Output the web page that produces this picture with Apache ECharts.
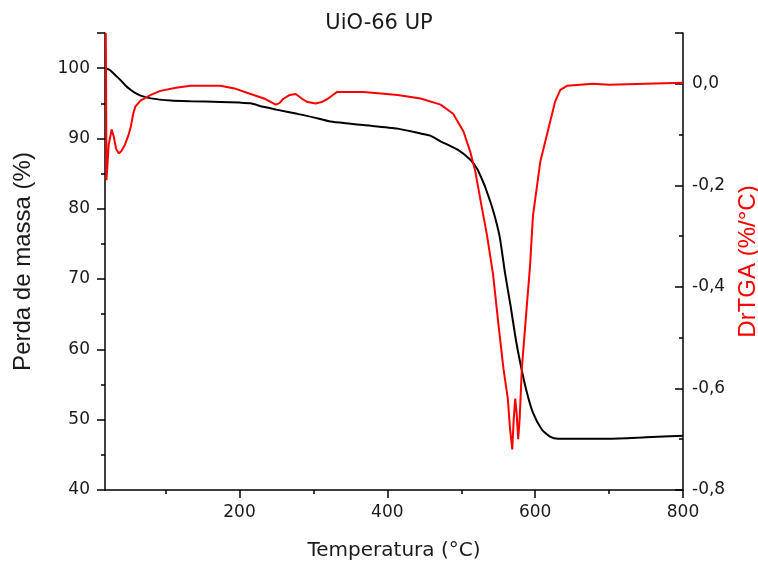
<!DOCTYPE html>
<html>
<head>
<meta charset="utf-8">
<script src="https://cdn.jsdelivr.net/npm/echarts@6/dist/echarts.min.js"></script>
<style>
  html, body { margin: 0; padding: 0; background: #fff; }
  #chart { width: 758px; height: 563px; }
</style>
</head>
<body>
<div id="chart"></div>
<script>
// TGA curve (mass %, left axis)
const tgaTemp = [19, 25, 32, 39, 46, 53, 60, 66, 80, 107, 134, 174, 200, 215, 232, 250, 278, 300, 323, 350, 368, 414, 445, 458, 472, 495, 512, 522, 528, 532, 543, 552, 559, 567, 574, 580, 588, 597, 609, 620, 631, 660, 700, 750, 800];
const tgaMass = [100.0, 99.7, 99.0, 98.3, 97.5, 96.9, 96.4, 96.1, 95.7, 95.4, 95.3, 95.2, 95.1, 95.0, 94.5, 94.1, 93.5, 93.0, 92.4, 92.1, 91.9, 91.4, 90.7, 90.4, 89.6, 88.4, 87.0, 85.6, 84.2, 83.2, 79.8, 76.0, 71.0, 66.0, 61.3, 58.0, 54.2, 51.0, 48.6, 47.6, 47.3, 47.3, 47.3, 47.5, 47.7];

// derivative curve (%/°C, right axis)
const dtgTemp = [19, 19.5, 20, 23, 27, 30, 33, 36.5, 40, 45, 50, 53, 56, 59, 66, 80, 93, 114, 134, 174, 195, 215, 235, 249, 254, 259, 268, 276, 285, 292, 303, 311, 319, 332, 368, 414, 445, 472, 489, 503, 512, 519, 528, 535, 543, 550, 557, 563, 566, 569, 571, 573, 575, 577, 579, 582, 588, 593, 597, 607, 618, 627, 634, 643, 678, 700, 750, 800];
const dtgValue = [0.1, 0.0, -0.19, -0.12, -0.09, -0.105, -0.128, -0.137, -0.133, -0.12, -0.1, -0.084, -0.06, -0.045, -0.033, -0.022, -0.014, -0.008, -0.004, -0.004, -0.01, -0.02, -0.03, -0.041, -0.038, -0.03, -0.022, -0.02, -0.03, -0.036, -0.039, -0.036, -0.03, -0.016, -0.016, -0.022, -0.029, -0.041, -0.059, -0.094, -0.133, -0.173, -0.245, -0.30, -0.375, -0.47, -0.56, -0.62, -0.68, -0.72, -0.66, -0.62, -0.65, -0.70, -0.66, -0.56, -0.45, -0.36, -0.26, -0.153, -0.088, -0.035, -0.012, -0.004, 0.0, -0.002, 0.0, 0.002];

const xMajorTicks = [200, 400, 600, 800];
const xMinorTicks = [100, 300, 500, 700];

const chart = echarts.init(document.getElementById('chart'));

const axisText = { color: '#1a1a1a', fontSize: 17, fontFamily: 'DejaVu Sans' };
const blackLine = { color: '#000', width: 1.5 };

chart.setOption({
    animation: false,
    title: {
        text: 'UiO-66 UP',
        left: 'center',
        top: 8,
        textStyle: { color: '#1a1a1a', fontSize: 21, fontWeight: 'normal', fontFamily: 'DejaVu Sans' }
    },
    grid: { left: 105, right: 75, top: 33, bottom: 73, outerBoundsMode: 'none' },
    xAxis: [
        {
            type: 'value',
            min: 18,
            max: 800,
            name: 'Temperatura (°C)',
            nameLocation: 'middle',
            nameGap: 51,
            nameTextStyle: { color: '#1a1a1a', fontSize: 20, fontFamily: 'DejaVu Sans' },
            axisLine: { show: true, onZero: false, lineStyle: blackLine },
            axisTick: { show: true, length: 8, customValues: xMajorTicks, lineStyle: blackLine },
            axisLabel: Object.assign({ margin: 14, customValues: xMajorTicks }, axisText),
            splitLine: { show: false }
        },
        {
            type: 'value',
            min: 18,
            max: 800,
            position: 'bottom',
            axisLine: { show: false, onZero: false },
            axisTick: { show: true, length: 4, customValues: xMinorTicks, lineStyle: blackLine },
            axisLabel: { show: false },
            splitLine: { show: false }
        }
    ],
    yAxis: [
        {
            type: 'value',
            min: 40,
            max: 105,
            interval: 10,
            name: 'Perda de massa (%)',
            nameLocation: 'middle',
            nameGap: 70,
            nameTextStyle: { color: '#1a1a1a', fontSize: 24, fontFamily: 'Liberation Sans' },
            axisLine: { show: true, lineStyle: blackLine },
            axisTick: { show: true, length: 8, lineStyle: blackLine },
            minorTick: { show: true, splitNumber: 2, length: 4, lineStyle: blackLine },
            axisLabel: Object.assign({ margin: 15, showMaxLabel: false }, axisText),
            splitLine: { show: false }
        },
        {
            type: 'value',
            min: -0.8,
            max: 0.1,
            interval: 0.2,
            position: 'right',
            name: 'DrTGA (%/°C)',
            nameLocation: 'middle',
            nameGap: 49,
            nameTextStyle: { color: '#ff0000', fontSize: 24, fontFamily: 'Liberation Sans' },
            axisLine: { show: true, lineStyle: blackLine },
            axisTick: { show: true, inside: true, length: 8, lineStyle: blackLine },
            minorTick: { show: true, splitNumber: 2, length: 4, lineStyle: blackLine },
            axisLabel: Object.assign({
                margin: 9,
                showMaxLabel: false,
                formatter: v => v.toFixed(1).replace('.', ',')
            }, axisText),
            splitLine: { show: false }
        }
    ],
    series: [
        {
            name: 'TGA',
            type: 'line',
            xAxisIndex: 0,
            yAxisIndex: 0,
            showSymbol: false,
            smooth: 0.2,
            lineStyle: { color: '#000', width: 2 },
            data: tgaTemp.map((t, i) => [t, tgaMass[i]])
        },
        {
            name: 'DrTGA',
            type: 'line',
            xAxisIndex: 0,
            yAxisIndex: 1,
            showSymbol: false,
            lineStyle: { color: '#ff0000', width: 2 },
            data: dtgTemp.map((t, i) => [t, dtgValue[i]])
        }
    ]
});
</script>
</body>
</html>
